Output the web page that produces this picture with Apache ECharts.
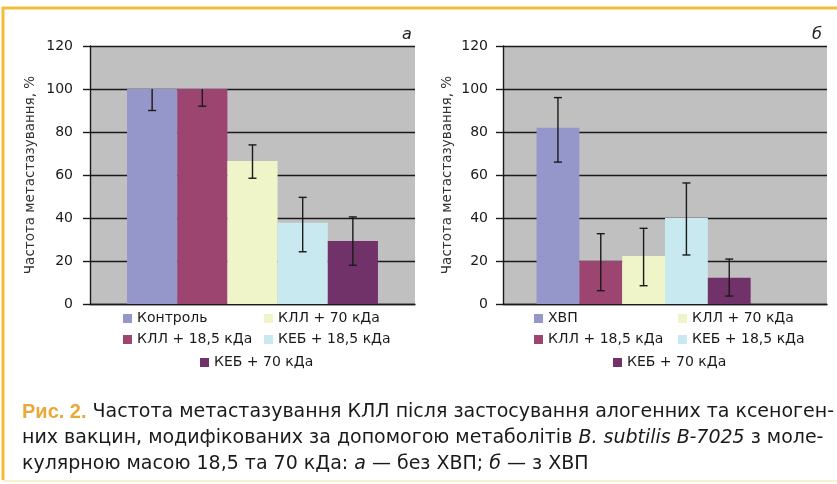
<!DOCTYPE html>
<html><head><meta charset="utf-8">
<script src="https://cdn.jsdelivr.net/npm/echarts@6/dist/echarts.min.js"></script>
<style>html,body{margin:0;padding:0;background:#fff}#c{width:837px;height:484px}</style>
</head><body><div id="c"></div><script>
// ---- data ----
const categories = [''];
const namesA = ['Контроль','КЛЛ + 18,5 кДа','КЛЛ + 70 кДа','КЕБ + 18,5 кДа','КЕБ + 70 кДа'];
const valuesA = [100, 100, 66.5, 37.8, 29.3];
const errLowA = [90, 92, 58.5, 24.3, 18];
const errHighA = [100, 100, 74, 49.6, 40.5];
const namesB = ['ХВП','КЛЛ + 18,5 кДа','КЛЛ + 70 кДа','КЕБ + 18,5 кДа','КЕБ + 70 кДа'];
const valuesB = [82, 20, 22.3, 40, 12.2];
const errLowB = [66, 6.2, 8.5, 22.8, 3.7];
const errHighB = [96, 32.7, 35.2, 56.3, 20.9];
const yMin = 0, yMax = 120, yStep = 20;
const yAxisTitle = 'Частота метастазування, %';

const colors = ['#9597CB','#9C4571','#EFF5C9','#C9E9F0','#703269'];
const gapA = 0.228, gapB = 0.207, slotsA = 5, slotsB = 6;
const FONT = '"DejaVu Sans", sans-serif';

function errSeries(gridIdx, low, high, vals, gap, slots) {
  return {
    type: 'custom', xAxisIndex: gridIdx, yAxisIndex: gridIdx, z: 5, silent: true,
    data: low.map((l, i) => ({ value: [0, l, high[i], vals[i], i] })),
    renderItem: function (params, api) {
      const i = api.value(4);
      const c = api.coord([0, 0]);
      const band = api.size([1, 0])[0];
      const bw = band * (1 - gap) / slots;
      const x = c[0] - band * (1 - gap) / 2 + bw * (i + 0.5);
      const yl = api.coord([0, api.value(1)])[1];
      const yh = api.coord([0, api.value(2)])[1];
      const cap = 4;
      const st = { stroke: '#1a1a1a', lineWidth: 1.4 };
      const ch = [
        { type: 'line', shape: { x1: x, y1: yh, x2: x, y2: yl }, style: st },
        { type: 'line', shape: { x1: x - cap, y1: yl, x2: x + cap, y2: yl }, style: st }
      ];
      if (api.value(2) > api.value(3)) {
        ch.push({ type: 'line', shape: { x1: x - cap, y1: yh, x2: x + cap, y2: yh }, style: st });
      }
      return { type: 'group', children: ch };
    }
  };
}

function barSeries(gridIdx, names, vals, gap) {
  return names.map((n, i) => ({
    name: n, type: 'bar', xAxisIndex: gridIdx, yAxisIndex: gridIdx,
    barGap: 0, barCategoryGap: (gap * 100) + '%',
    itemStyle: { color: colors[i] },
    data: [vals[i]]
  }));
}

const series = [].concat(
  barSeries(0, namesA, valuesA, gapA),
  barSeries(1, namesB, valuesB, gapB),
  [{ name: ' ', type: 'bar', xAxisIndex: 1, yAxisIndex: 1, barGap: 0,
     barCategoryGap: (gapB * 100) + '%', data: [null] }],
  [errSeries(0, errLowA, errHighA, valuesA, gapA, slotsA),
   errSeries(1, errLowB, errHighB, valuesB, gapB, slotsB)]
);

function yAx(gridIdx, margin) {
  return {
    type: 'value', gridIndex: gridIdx, min: yMin, max: yMax, interval: yStep,
    name: yAxisTitle, nameLocation: 'middle', nameGap: gridIdx === 0 ? 53 : 49,
    nameTextStyle: { fontFamily: FONT, fontSize: 13.5, color: '#333' },
    axisLine: { show: true, lineStyle: { color: '#1a1a1a', width: 1.4 } },
    axisTick: { show: true, length: 7, lineStyle: { color: '#1a1a1a', width: 1.4 } },
    axisLabel: { margin: margin, fontFamily: FONT, fontSize: 14, color: '#1a1a1a' },
    splitLine: { show: true, lineStyle: { color: '#1a1a1a', width: 1.4 } }
  };
}
function xAx(gridIdx) {
  return {
    type: 'category', gridIndex: gridIdx, data: categories,
    axisLine: { show: true, lineStyle: { color: '#1a1a1a', width: 1.4 } },
    axisTick: { show: false }, axisLabel: { show: false }
  };
}

function leg(data, left, top) {
  return {
    data: data, left: left, top: top, orient: 'vertical', padding: 0,
    itemWidth: 9, itemHeight: 9, icon: 'rect', itemGap: 6,
    textStyle: { fontFamily: FONT, fontSize: 14, color: '#1a1a1a', lineHeight: 15 },
    selectedMode: false
  };
}

const captionFont = '"DejaVu Sans", sans-serif';
const capRich = {
  b: { fontFamily: '"Liberation Sans", sans-serif', fontWeight: 'bold', fontSize: 20, fill: '#E9A93A' },
  i: { fontFamily: captionFont, fontStyle: 'italic', fontSize: 19, fill: '#1a1a1a' }
};
function capLine(text, y) {
  return { type: 'text', left: 22, top: y - 11,
    style: { text: text, fontFamily: captionFont, fontSize: 19, fill: '#1a1a1a', rich: capRich } };
}

const option = {
  backgroundColor: '#fff',
  animation: false,
  grid: [
    { left: 90, right: 422, top: 46, bottom: 180, show: true, backgroundColor: '#C0C0C0', borderWidth: 0 },
    { left: 503, right: 10, top: 46, bottom: 180, show: true, backgroundColor: '#C0C0C0', borderWidth: 0 }
  ],
  xAxis: [xAx(0), xAx(1)],
  yAxis: [yAx(0, 17), yAx(1, 15)],
  legend: [
    leg([namesA[0], namesA[1]], 123, 311),
    leg([namesA[2], namesA[3]], 264, 311),
    leg([namesA[4]], 200, 355),
    leg([namesB[0], namesB[1]], 534, 311),
    leg([namesB[2], namesB[3]], 678, 311),
    leg([namesB[4]], 613, 355)
  ],
  series: series,
  graphic: [
    { type: 'line', shape: { x1: 2, y1: 8, x2: 837, y2: 8 }, style: { stroke: '#F0BE3C', lineWidth: 3 } },
    { type: 'line', shape: { x1: 3, y1: 7, x2: 3, y2: 480 }, style: { stroke: '#F0BE3C', lineWidth: 3 } },
    { type: 'line', shape: { x1: 3, y1: 481, x2: 837, y2: 481 }, style: { stroke: '#FBF1CC', lineWidth: 2 } },
    { type: 'text', left: 402, top: 27, style: { text: 'а', fontFamily: FONT, fontStyle: 'italic', fontSize: 16, fill: '#222' } },
    { type: 'text', left: 812, top: 27, style: { text: 'б', fontFamily: FONT, fontStyle: 'italic', fontSize: 16, fill: '#222' } },
    capLine('{b|Рис. 2.} Частота метастазування КЛЛ після застосування алогенних та ксеноген-', 413),
    capLine('них вакцин, модифікованих за допомогою метаболітів {i|B. subtilis B-7025} з моле-', 440),
    capLine('кулярною масою 18,5 та 70 кДа: {i|а} — без ХВП; {i|б} — з ХВП', 466)
  ]
};
echarts.init(document.getElementById('c'), null, { renderer: 'canvas' }).setOption(option);
</script></body></html>
